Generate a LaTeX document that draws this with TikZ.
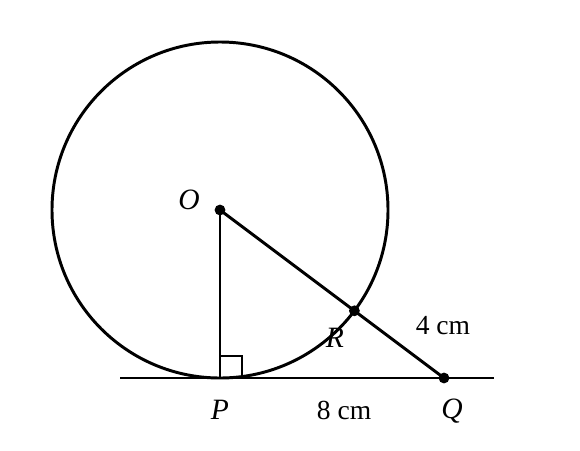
\documentclass[tikz,border=0pt]{standalone}
\usepackage{fontspec}
\setmainfont{Liberation Serif}
\begin{document}
\begin{tikzpicture}[x=0.5cm,y=0.5cm,line width=1.5pt,
    lbl/.style={font=\fontsize{14}{16}\selectfont},
    pname/.style={font=\fontsize{15}{17}\selectfont\itshape},
    pt/.style={circle,fill,inner sep=0pt,minimum size=5.5pt}]
    \useasboundingbox (-7.857,-2.571) rectangle (12.857,13.5);
    \coordinate (P) at (0,0);
    \coordinate (O) at (0,6);
    \coordinate (Q) at (8,0);
    \coordinate (R) at (4.8,2.4);
    \coordinate (L) at (-3.571,0);
    \coordinate (M) at (9.786,0);
    \draw (O) circle (6);
    \draw (L) -- (M);
    \draw (O) -- (P);
    \draw (O) -- (Q);
    \draw[line width=1.1pt] (0,0.79) -- (0.79,0.79) -- (0.79,0);
    \node[pt] (o) at (O) {};
    \node[pt] (r) at (R) {};
    \node[pt] (q) at (Q) {};
    \node[pname] (oname) at (-1.107,6.357) {O};
    \node[pname] (pname) at (0,-1.143) {P};
    \node[pname] (qname) at (8.286,-1.179) {Q};
    \node[pname] (rname) at (4.107,1.429) {R};
    \node[lbl] (pq) at (4.43,-1.143) {8 cm};
    \node[lbl] (rq) at (7.964,1.857) {4 cm};
  \end{tikzpicture}
\end{document}
